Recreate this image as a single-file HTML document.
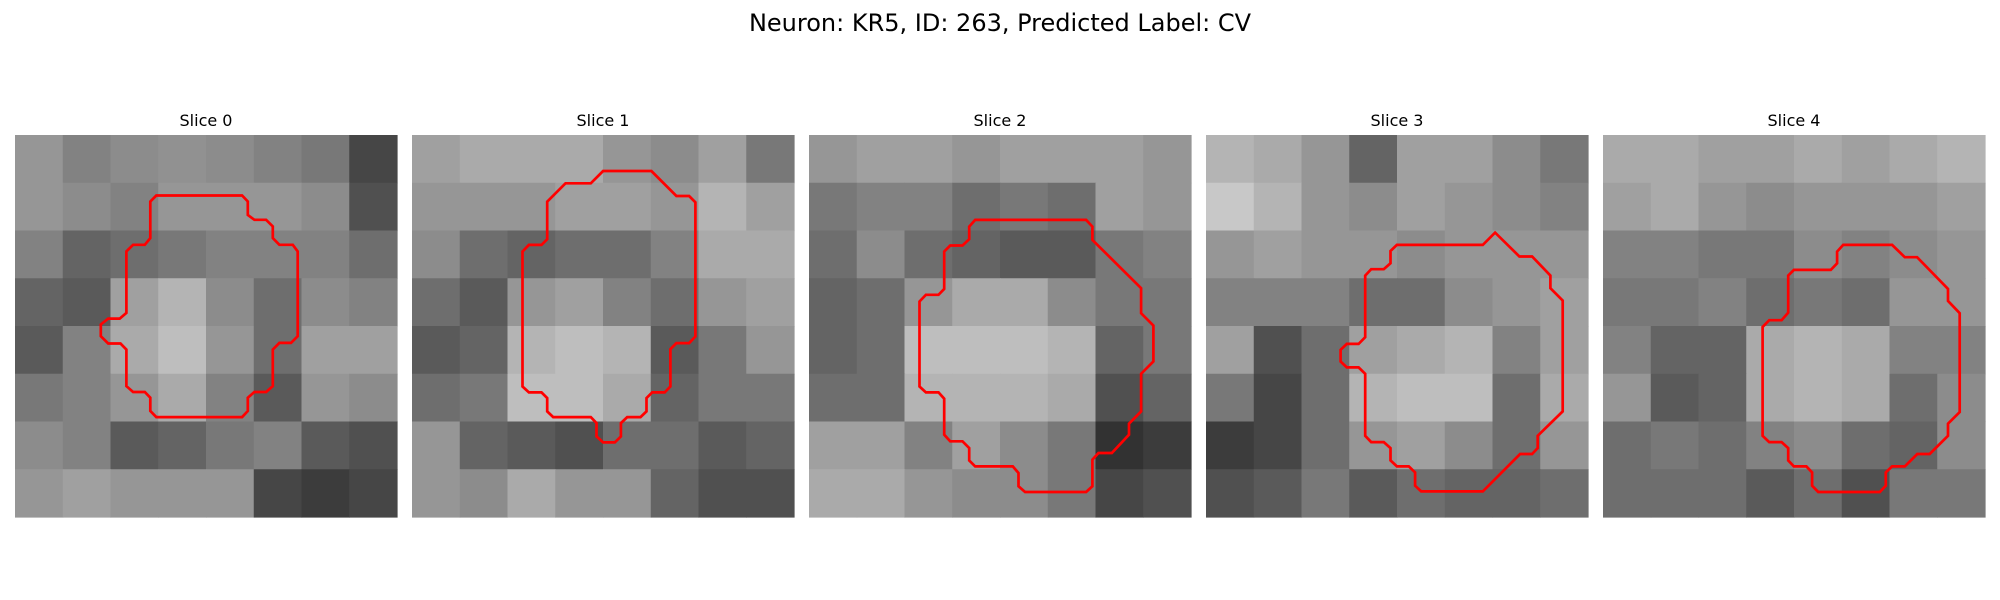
<!DOCTYPE html>
<html><head><meta charset="utf-8"><style>
html,body{margin:0;padding:0;background:#fff;width:2000px;height:600px;overflow:hidden;font-family:"Liberation Sans","DejaVu Sans",sans-serif}
svg text{font-family:"DejaVu Sans","Liberation Sans",sans-serif}
</style></head><body>
<svg id="fig" width="2000" height="600" viewBox="0 0 2000 600" xmlns="http://www.w3.org/2000/svg">
<text x="1000" y="31" text-anchor="middle" font-size="24" fill="#000">Neuron: KR5, ID: 263, Predicted Label: CV</text>
</svg>
<script>
const sliceTitles=["Slice 0","Slice 1","Slice 2","Slice 3","Slice 4"];
const panelLeft=[15,412,809,1206,1603];
const brightness0=[[150,130,140,145,140,130,120,70],[150,140,130,150,150,150,140,80],[130,100,110,120,130,130,130,110],[100,90,160,180,140,110,140,130],[90,130,170,190,150,110,160,160],[120,130,150,170,130,90,150,140],[140,130,90,100,120,130,90,80],[150,160,150,150,150,70,60,70]];
const brightness1=[[160,170,170,170,150,140,160,120],[150,150,150,160,160,150,180,160],[140,110,100,110,110,130,170,170],[110,90,150,160,130,110,150,160],[90,100,180,190,180,90,120,150],[110,120,190,190,170,100,120,120],[150,100,90,80,110,110,90,100],[150,140,170,150,150,100,80,80]];
const brightness2=[[150,160,160,150,160,160,160,150],[120,130,130,110,120,110,160,150],[110,140,110,100,90,90,120,130],[100,110,150,170,170,140,120,120],[100,110,190,190,190,180,100,120],[110,110,180,180,180,170,80,100],[160,160,130,160,140,120,50,60],[170,170,150,140,140,120,70,80]];
const brightness3=[[180,170,150,100,160,160,140,120],[200,180,150,140,160,150,140,130],[150,160,150,150,140,150,150,150],[130,130,130,110,110,140,150,160],[160,80,110,160,170,180,130,160],[120,70,110,180,190,190,110,170],[60,70,110,150,160,140,110,150],[80,90,120,90,110,100,100,110]];
const brightness4=[[170,170,160,160,170,160,170,180],[160,170,150,140,150,150,150,160],[130,130,120,120,140,130,140,150],[120,120,130,110,120,110,150,150],[130,100,100,170,180,170,130,130],[150,90,100,170,180,170,110,140],[110,120,110,130,140,110,100,140],[110,110,110,90,110,80,120,120]];
const contour0=[[11.47,4.91],[18.43,4.91],[18.89,5.4],[18.89,6.48],[19.43,6.88],[20.38,6.88],[20.92,7.42],[20.92,8.37],[21.46,8.91],[22.54,8.91],[22.94,9.45],[22.94,16.33],[22.4,16.87],[21.46,16.87],[20.92,17.41],[20.92,20.38],[20.38,20.86],[19.43,20.86],[18.89,21.32],[18.89,22.4],[18.43,22.89],[11.47,22.89],[10.98,22.4],[10.98,21.32],[10.53,20.86],[9.58,20.86],[9.04,20.38],[9.04,17.41],[8.56,16.92],[7.56,16.92],[6.96,16.33],[6.96,15.38],[7.56,14.9],[8.5,14.9],[9.04,14.44],[9.04,9.45],[9.58,8.91],[10.53,8.91],[10.98,8.37],[10.98,5.4]];
const contour1=[[15.51,2.92],[19.43,2.92],[21.46,4.95],[22.49,4.95],[23.0,5.46],[23.0,16.35],[22.49,16.89],[21.46,16.89],[20.97,17.38],[20.97,20.41],[20.51,20.89],[19.49,20.89],[19.03,21.35],[19.03,22.43],[18.54,22.89],[17.46,22.89],[16.95,23.38],[16.95,24.46],[16.46,24.95],[15.51,24.95],[14.97,24.46],[14.97,23.38],[14.51,22.89],[11.46,22.89],[10.97,22.43],[10.97,21.35],[10.51,20.89],[9.49,20.89],[8.97,20.41],[8.97,9.46],[9.49,8.92],[10.51,8.92],[10.97,8.46],[10.97,5.41],[12.46,3.92],[14.51,3.92]];
const contour2=[[13.49,6.89],[22.49,6.89],[23.0,7.43],[23.0,8.51],[26.95,12.43],[26.95,14.46],[27.95,15.46],[27.95,18.38],[26.95,19.38],[26.95,22.43],[25.97,23.43],[25.97,24.32],[24.57,25.81],[23.49,25.81],[23.0,26.35],[23.0,28.51],[22.49,28.97],[17.54,28.97],[17.0,28.51],[17.0,27.43],[16.54,26.89],[13.49,26.89],[13.0,26.41],[13.0,25.41],[12.46,24.86],[11.46,24.86],[10.97,24.32],[10.97,21.4],[10.51,20.89],[9.49,20.89],[8.97,20.41],[8.97,13.51],[9.49,12.97],[10.51,12.97],[10.97,12.49],[10.97,9.46],[11.46,8.97],[12.46,8.97],[13.0,8.46],[13.0,7.43]];
const contour3=[[15.49,8.92],[22.46,8.92],[23.46,7.92],[25.43,9.86],[26.46,9.86],[27.95,11.41],[27.95,12.43],[28.95,13.43],[28.95,22.43],[26.92,24.41],[26.92,25.41],[26.46,25.89],[25.49,25.89],[22.46,28.92],[17.46,28.92],[16.97,28.46],[16.97,27.38],[16.46,26.89],[15.49,26.89],[14.97,26.41],[14.97,25.41],[14.43,24.92],[13.41,24.92],[12.92,24.41],[12.92,19.38],[12.38,18.86],[11.43,18.86],[10.92,18.38],[10.92,17.43],[11.43,16.95],[12.38,16.95],[12.92,16.41],[12.92,11.41],[13.41,10.89],[14.43,10.89],[14.97,10.41],[14.97,9.41]];
const contour4=[[19.49,8.92],[23.46,8.92],[24.49,9.92],[25.49,9.92],[28.0,12.49],[28.0,13.46],[28.95,14.46],[28.95,22.49],[28.0,23.43],[28.0,24.41],[26.51,25.89],[25.51,25.89],[24.49,26.89],[23.46,26.89],[22.95,27.38],[22.95,28.46],[22.46,28.97],[17.46,28.97],[16.97,28.46],[16.97,27.38],[16.51,26.89],[15.49,26.89],[15.03,26.41],[15.03,25.41],[14.49,24.92],[13.49,24.92],[12.95,24.41],[12.95,15.57],[13.49,15.03],[14.49,15.03],[15.03,14.41],[15.03,11.41],[15.49,10.95],[18.49,10.95],[19.0,10.41],[19.0,9.46]];
const brightnessMaps=[brightness0,brightness1,brightness2,brightness3,brightness4];
const contours=[contour0,contour1,contour2,contour3,contour4];
const NS="http://www.w3.org/2000/svg";
const fig=document.getElementById('fig');
const TOP=135,SIZE=382,CELLS=31;
function mk(t,a){const e=document.createElementNS(NS,t);for(const k in a)e.setAttribute(k,a[k]);return e;}
sliceTitles.forEach((title,i)=>{
  const x0=panelLeft[i];
  const g=mk('g',{});
  
  
  fig.appendChild(g);
  const t=mk('text',{x:x0+SIZE/2,y:126,'text-anchor':'middle','font-size':'16',fill:'#000'});
  
  
  t.textContent=title;g.appendChild(t);
  const img=mk('g',{});
  
  
  g.appendChild(img);
  const m=brightnessMaps[i],n=m.length,cs=SIZE/n;
  m.forEach((row,r)=>row.forEach((v,c)=>{
    const rc=mk('rect',{x:x0+c*cs,y:TOP+r*cs,width:cs+0.6,height:cs+0.6,fill:`rgb(${v},${v},${v})`});
    
    
    img.appendChild(rc);
  }));
  const sc=SIZE/CELLS;
  const pts=contours[i].map(p=>(x0+p[0]*sc).toFixed(1)+','+(TOP+p[1]*sc).toFixed(1)).join(' ');
  const pl=mk('polygon',{points:pts,fill:'none',stroke:'#ff0000','stroke-width':'2.7','stroke-linejoin':'miter'});
  
  
  g.appendChild(pl);
});
</script>
</body></html>
